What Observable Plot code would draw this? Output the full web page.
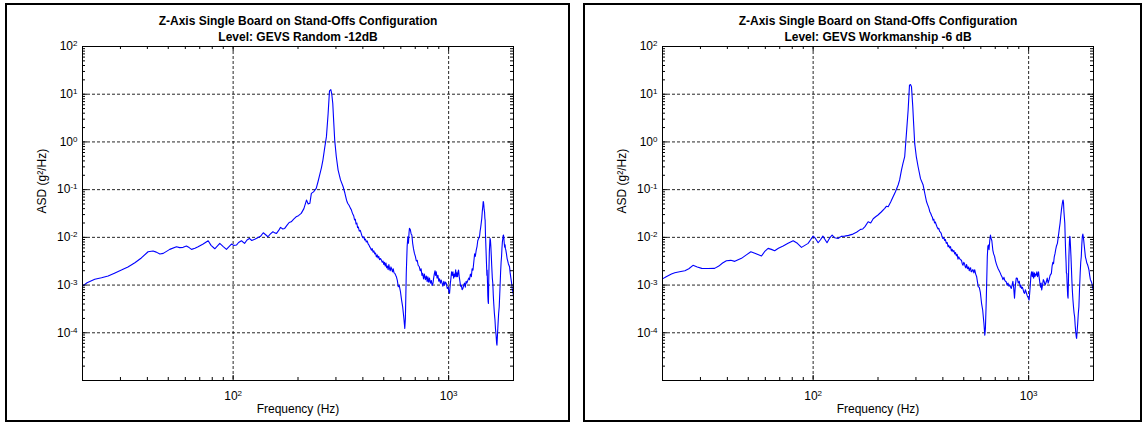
<!DOCTYPE html>
<html><head><meta charset="utf-8">
<script src="https://cdn.jsdelivr.net/npm/d3@7"></script>
<script src="https://cdn.jsdelivr.net/npm/@observablehq/plot@0.6"></script>
<style>
body{margin:0;background:#fff;width:1144px;height:423px;overflow:hidden;position:relative;font-family:"Liberation Sans",Arial,sans-serif}
.panel{position:absolute;top:0}
.border{position:absolute;border:2px solid #000;box-sizing:border-box;pointer-events:none}
</style></head><body>
<div id="p1" class="panel" style="left:0"></div>
<div id="p2" class="panel" style="left:580px"></div>
<div class="border" style="left:5px;top:3px;width:565px;height:419px"></div>
<div class="border" style="left:583px;top:3px;width:559px;height:419px"></div>
<script>
const titleLine1 = "Z-Axis Single Board on Stand-Offs Configuration";
const titlesLine2 = ["Level: GEVS Random -12dB", "Level: GEVS Workmanship -6 dB"];
const xLabel = "Frequency (Hz)";
const yLabel = "ASD (g²/Hz)";

const xDomain = [20, 2000];
const yDomain = [1e-5, 1e2];
const xMajor = [100, 1000];
const xMinor = [20, 30, 40, 50, 60, 70, 80, 90, 200, 300, 400, 500, 600, 700, 800, 900, 2000];
const yGrid = [1e-4, 1e-3, 1e-2, 1e-1, 1, 10];
const yLabeled = [1e-4, 1e-3, 1e-2, 1e-1, 1, 10, 100];
const yDecades = [1e-5, 1e-4, 1e-3, 1e-2, 1e-1, 1, 10];
const yMinorMult = [2, 3, 4, 5, 6, 7, 8, 9];

// Series 1: GEVS Random -12dB  [frequency Hz, ASD g^2/Hz]
const seriesRandom = [
[20,0.00095],[21,0.00112],[22.8,0.00132],[24.5,0.00142],[26.3,0.00155],[28.3,0.0018],[30.3,0.00206],[32.5,0.0024],[35,0.00294],[37.5,0.0037],
[40.3,0.00499],[42.5,0.00516],[44,0.0049],[45.7,0.00447],[47.4,0.00461],[50.8,0.0056],[54.6,0.00635],[56.5,0.0061],[58.6,0.00617],[60.7,0.00658],
[62.5,0.0061],[64.1,0.0056],[66.5,0.0059],[68.8,0.00635],[72.6,0.00724],[76.6,0.0085],[79,0.0068],[82.2,0.00577],[86.7,0.00748],[90,0.0064],
[93.1,0.0056],[98.2,0.00724],[100.5,0.0068],[103.6,0.0069],[106,0.0078],[109.3,0.0085],[113,0.00748],[116,0.0088],[119,0.0095],[122,0.0086],
[126,0.0091],[130,0.0098],[134,0.0105],[138,0.0125],[142,0.0112],[145,0.0103],[149,0.0118],[153,0.0131],[156,0.0124],[159,0.0121],
[163,0.0142],[166,0.0162],[170,0.015],[173.5,0.0154],[178,0.018],[182,0.0205],[186,0.0212],[191,0.024],[196,0.027],[201,0.0285],
[207,0.0318],[213,0.04],[219,0.0605],[223,0.05],[227,0.0516],[230.7,0.0836],[236,0.09],[243,0.106],[248,0.15],[252,0.202],
[257,0.29],[261,0.417],[266,0.75],[271,1.29],[276,3.98],[280,11.8],[284,12.5],[287,10],[290,6.4],[293,2.6],
[296,1.1],[301,0.5],[307,0.257],[315,0.16],[324,0.115],[330,0.085],[336,0.06],[340,0.052],[345,0.047],[350,0.041],
[354,0.0373],[357,0.033],[360,0.03],[363,0.028],[366,0.0231],[369,0.024],[372,0.019],[375,0.02],[378,0.016],[381,0.0165],
[385,0.0135],[389,0.014],[393,0.0121],[396,0.0108],[400,0.0098],[404,0.0102],[408,0.0088],[411,0.0092],[415,0.008],[419,0.0084],
[423,0.0073],[427,0.0069],[430,0.0064],[434,0.006],[438,0.0054],[442,0.0058],[446,0.0049],[450,0.0052],[454,0.0045],[458,0.0047],
[462,0.0039],[466,0.0043],[470,0.0037],[474,0.004],[478,0.0034],[483,0.0036],[488,0.0033],[492,0.003],[496,0.0032],[500,0.0027],
[504,0.003],[508,0.0025],[512,0.0029],[516,0.0023],[520,0.0025],[524,0.0021],[528,0.0027],[532,0.0022],[536,0.002],[540,0.0024],
[545,0.0021],[549,0.0019],[553,0.0022],[558,0.0018],[563,0.00176],[568,0.0016],[572,0.0015],[578,0.00125],[584,0.00092],[590,0.00098],
[597,0.00075],[605,0.000485],[612,0.00035],[620,0.0002],[626,0.000123],[630,0.0002],[636,0.00176],[642,0.0065],[647,0.0103],[651,0.0075],
[655,0.0125],[658,0.0154],[664,0.0145],[670,0.0118],[675,0.0112],[681,0.0075],[687,0.0058],[694,0.0046],[701,0.004],[708,0.0032],
[715,0.0033],[722,0.0026],[731,0.00242],[738,0.002],[745,0.0022],[752,0.0016],[758,0.00176],[765,0.00135],[772,0.0017],[780,0.0013],
[788,0.00155],[795,0.00118],[801,0.00149],[808,0.00115],[815,0.0014],[823,0.0011],[831,0.00125],[838,0.00098],[846,0.00109],[852,0.0014],
[858,0.0017],[865,0.002],[870,0.0016],[876,0.0019],[884,0.0014],[892,0.0016],[900,0.0012],[908,0.00135],[916,0.0011],[924,0.00127],
[932,0.0011],[940,0.00095],[950,0.0012],[958,0.001],[966,0.00115],[975,0.00109],[985,0.00085],[995,0.0009],[1003,0.00072],[1010,0.00067],
[1018,0.00105],[1025,0.0014],[1032,0.0019],[1040,0.0016],[1047,0.0019],[1055,0.0014],[1063,0.0017],[1070,0.0015],[1078,0.0021],[1085,0.00149],
[1092,0.0018],[1100,0.0015],[1106,0.0019],[1112,0.00206],[1120,0.0015],[1128,0.0012],[1136,0.00095],[1145,0.001],[1155,0.0008],[1165,0.00085],
[1175,0.001],[1185,0.0011],[1195,0.0009],[1205,0.0012],[1215,0.0011],[1229,0.00127],[1240,0.0014],[1250,0.0013],[1262,0.0017],[1275,0.0015],
[1285,0.0022],[1297,0.00206],[1310,0.0032],[1320,0.0045],[1330,0.004],[1343,0.00542],[1355,0.0065],[1365,0.0085],[1378,0.0095],[1391,0.0103],
[1400,0.0135],[1408,0.016],[1416,0.0196],[1425,0.025],[1433,0.035],[1441,0.045],[1447,0.056],[1451,0.0557],[1456,0.048],[1462,0.038],
[1468,0.034],[1473,0.025],[1477,0.023],[1482,0.012],[1490,0.006],[1498,0.003],[1505,0.0016],[1509,0.00206],[1515,0.0011],[1520,0.0006],
[1525,0.00045],[1530,0.00041],[1536,0.0015],[1545,0.005],[1556,0.0095],[1563,0.00877],[1570,0.0065],[1578,0.004],[1585,0.0025],[1595,0.0014],
[1603,0.00109],[1612,0.0006],[1620,0.0004],[1630,0.00026],[1641,0.000185],[1650,0.00012],[1660,0.00009],[1670,0.00006],[1676,0.0000552],[1685,0.00009],
[1695,0.00015],[1706,0.00025],[1717,0.00035],[1730,0.0008],[1742,0.0018],[1752,0.003],[1760,0.00392],[1768,0.006],[1776,0.008],[1785,0.0095],
[1792,0.011],[1797,0.0112],[1805,0.0095],[1812,0.0075],[1820,0.0062],[1828,0.007],[1835,0.0058],[1843,0.00542],[1855,0.0045],[1868,0.0036],
[1880,0.0032],[1893,0.0028],[1905,0.0026],[1917,0.00242],[1930,0.0018],[1945,0.0014],[1960,0.0011],[1975,0.0008],[1990,0.0007],[2000,0.00057]
];

// Series 2: GEVS Workmanship -6 dB  [frequency Hz, ASD g^2/Hz]
const seriesWork = [
[20,0.00135],[20.8,0.0015],[22,0.0017],[22.8,0.00181],[24,0.0019],[25.4,0.002],[26.5,0.0022],[27.7,0.00259],[29,0.0024],[30.4,0.00224],
[32.5,0.00222],[34.9,0.00224],[36.5,0.0025],[38,0.0029],[39.6,0.00324],[41.5,0.0033],[43.3,0.00314],[46.5,0.00363],[49,0.0043],[51.4,0.005],
[54,0.0046],[57.6,0.00406],[59.5,0.005],[61.8,0.00587],[64,0.0056],[66.3,0.00524],[69,0.0059],[72.6,0.00658],[76.5,0.0075],[80.8,0.0085],
[84.5,0.0075],[88.3,0.00617],[91.5,0.0068],[94.8,0.00748],[97.5,0.009],[100,0.0106],[102.5,0.0095],[105.5,0.0077],[108,0.0088],[111,0.0106],
[113.5,0.009],[116,0.0077],[119,0.0095],[122.5,0.0112],[126,0.0098],[130.6,0.0095],[135,0.0105],[140,0.0106],[146,0.011],[153,0.0117],
[159,0.0128],[166,0.0147],[170,0.015],[174,0.0168],[180,0.0212],[185,0.02],[190,0.0245],[195,0.027],[200,0.0294],[207,0.034],
[215,0.0405],[219,0.045],[223,0.0439],[229,0.055],[235,0.0709],[241,0.09],[248,0.125],[252,0.16],[257,0.257],[261,0.35],
[266,0.49],[271,1.51],[276,4.67],[280,15.5],[283,16],[286,14.4],[290,5.5],[293,2.2],[296,0.93],[301,0.5],
[307,0.302],[315,0.17],[324,0.125],[330,0.082],[336,0.0557],[340,0.048],[342,0.045],[345,0.04],[348,0.0344],[351,0.032],
[355,0.028],[358,0.026],[360,0.023],[363,0.024],[366,0.02],[369,0.021],[373,0.0181],[376,0.0165],[380,0.015],[383,0.0155],
[386,0.0135],[390,0.0128],[393,0.0121],[396,0.0105],[400,0.0095],[404,0.0098],[408,0.0086],[411,0.009],[415,0.0075],[419,0.0078],
[423,0.00635],[426,0.0068],[430,0.006],[434,0.0064],[438,0.0052],[442,0.0056],[446,0.005],[450,0.0053],[454,0.0045],[458,0.0048],
[462,0.0041],[466,0.0044],[470,0.0035],[474,0.0039],[478,0.0036],[483,0.0034],[488,0.0033],[492,0.0028],[496,0.0026],[500,0.003],
[504,0.0028],[508,0.0024],[512,0.0023],[515,0.0027],[518,0.0025],[521,0.0022],[524,0.00224],[527,0.0024],[530,0.002],[534,0.0022],
[538,0.0023],[541,0.0019],[545,0.0019],[549,0.0021],[553,0.00206],[557,0.0018],[562,0.0021],[568,0.0017],[574,0.00149],[580,0.0011],
[584,0.00092],[590,0.0009],[597,0.0007],[605,0.00041],[612,0.0003],[620,0.00016],[626,0.0000894],[630,0.00012],[636,0.000485],[643,0.00392],
[647,0.0065],[651,0.0069],[655,0.0055],[660,0.0085],[665,0.0112],[670,0.0095],[675,0.0085],[682,0.00542],[688,0.0045],[695,0.004],
[701,0.0033],[707,0.00285],[714,0.0025],[722,0.0022],[730,0.002],[738,0.0018],[745,0.00162],[752,0.0015],[760,0.0013],[768,0.00145],
[775,0.00125],[781,0.0012],[787,0.00117],[795,0.001],[802,0.0011],[810,0.00095],[818,0.001],[825,0.0009],[831,0.00085],[838,0.001],
[845,0.0012],[852,0.0009],[860,0.00053],[868,0.001],[876,0.0014],[886,0.00138],[895,0.0011],[905,0.0012],[914,0.0009],[920,0.001],
[927,0.00085],[935,0.0009],[943,0.0008],[950,0.0007],[958,0.00067],[966,0.0008],[975,0.0007],[985,0.0006],[995,0.00055],[1005,0.000485],
[1012,0.0007],[1018,0.001],[1025,0.0016],[1032,0.0019],[1040,0.0015],[1047,0.0019],[1055,0.0014],[1063,0.0018],[1070,0.0015],[1078,0.0017],
[1085,0.00162],[1092,0.0019],[1100,0.0015],[1106,0.0017],[1112,0.0019],[1120,0.0014],[1128,0.0011],[1136,0.0009],[1143,0.0011],[1150,0.00079],
[1160,0.001],[1170,0.0013],[1180,0.0012],[1192,0.001],[1208,0.00117],[1220,0.0014],[1232,0.0011],[1245,0.0013],[1258,0.0016],[1275,0.00176],
[1285,0.0025],[1295,0.003],[1305,0.0028],[1315,0.00392],[1325,0.0045],[1335,0.0055],[1345,0.0065],[1360,0.0075],[1372,0.01],[1385,0.014],
[1399,0.0196],[1410,0.028],[1420,0.038],[1430,0.048],[1440,0.058],[1445,0.0605],[1452,0.052],[1458,0.035],[1465,0.026],[1472,0.0196],
[1478,0.01],[1485,0.005],[1492,0.003],[1497,0.0018],[1503,0.00176],[1510,0.001],[1518,0.0006],[1524,0.00053],[1530,0.0012],[1538,0.004],
[1546,0.008],[1552,0.0105],[1556,0.0103],[1563,0.007],[1572,0.004],[1580,0.0022],[1588,0.0012],[1595,0.00079],[1605,0.0005],[1615,0.00035],
[1625,0.00026],[1635,0.000217],[1645,0.00014],[1655,0.0001],[1665,0.00008],[1670,0.0000764],[1680,0.00011],[1690,0.00016],[1700,0.00025],[1711,0.00035],
[1722,0.0008],[1735,0.0018],[1745,0.003],[1755,0.00392],[1765,0.007],[1775,0.0105],[1785,0.0117],[1792,0.0105],[1800,0.009],[1810,0.007],
[1820,0.0055],[1834,0.00392],[1848,0.0034],[1862,0.0029],[1876,0.0027],[1890,0.0024],[1906,0.00206],[1920,0.0016],[1935,0.0013],[1950,0.0012],
[1965,0.0011],[1980,0.0009],[1990,0.0008],[2000,0.00079]
];

const yMinor = yDecades.flatMap(d => yMinorMult.map(m => d * m));
const FONT = '"Liberation Sans", Arial, Helvetica, sans-serif';
const gridStyle = {stroke: "#000", strokeOpacity: 0.85, strokeDasharray: "3,2", strokeWidth: 1};

function panel(series, title2, width, marginRight) {
  const height = 423, mL = 82, mT = 46, mB = 43;
  const innerW = width - mL - marginRight, innerH = height - mT - mB;
  const data = series.map(([f, v]) => ({f, v}));
  const expFmt = d => String(Math.round(Math.log10(d)));
  const svg = Plot.plot({
    width, height,
    marginLeft: mL, marginRight, marginTop: mT, marginBottom: mB,
    style: {fontFamily: FONT, fontSize: "12px", color: "#000", background: "transparent", overflow: "visible"},
    x: {type: "log", domain: xDomain},
    y: {type: "log", domain: yDomain},
    marks: [
      Plot.ruleX(xMajor, {x: d => d, ...gridStyle}),
      Plot.ruleY(yGrid, {y: d => d, ...gridStyle}),
      Plot.line(data, {x: "f", y: "v", stroke: "#0000ff", strokeWidth: 1.1, clip: true}),
      Plot.tickX(xMinor, {x: d => d, insetTop: innerH - 3, stroke: "#000"}),
      Plot.tickX(xMinor, {x: d => d, insetBottom: innerH - 3, stroke: "#000"}),
      Plot.tickX(xMajor, {x: d => d, insetTop: innerH - 5, stroke: "#000"}),
      Plot.tickX(xMajor, {x: d => d, insetBottom: innerH - 5, stroke: "#000"}),
      Plot.tickY(yMinor, {y: d => d, insetRight: innerW - 3, stroke: "#000"}),
      Plot.tickY(yMinor, {y: d => d, insetLeft: innerW - 3, stroke: "#000"}),
      Plot.tickY(yGrid, {y: d => d, insetRight: innerW - 5, stroke: "#000"}),
      Plot.tickY(yGrid, {y: d => d, insetLeft: innerW - 5, stroke: "#000"}),
      Plot.frame({stroke: "#000", strokeWidth: 1}),
      Plot.axisX(xMajor, {tickFormat: expFmt, tickSize: 0, tickPadding: 11, label: null, fontSize: 12}),
      Plot.axisY(yLabeled, {tickFormat: expFmt, tickSize: 0, tickPadding: 5, label: null, fontSize: 12}),
      Plot.text([titleLine1], {frameAnchor: "top", dy: -30, fontWeight: "bold", fontSize: 12, fill: "#000"}),
      Plot.text([title2], {frameAnchor: "top", dy: -14.5, fontWeight: "bold", fontSize: 12, fill: "#000"}),
      Plot.text([xLabel], {frameAnchor: "bottom", dy: 32, fontSize: 12, fill: "#000"}),
      Plot.text([yLabel], {frameAnchor: "left", dx: -40, rotate: -90, fontSize: 12, fill: "#000"})
    ]
  });
  d3.select(svg).selectAll('g[aria-label="x-axis tick label"] text, g[aria-label="y-axis tick label"] text').each(function() {
    const e = this.textContent;
    const t = d3.select(this);
    t.text(null);
    t.append("tspan").text("10");
    t.append("tspan").attr("dy", "-0.5em").attr("font-size", "8px").text(e);
  });
  return svg;
}

document.getElementById("p1").appendChild(panel(seriesRandom, titlesLine2[0], 575, 62));
document.getElementById("p2").appendChild(panel(seriesWork, titlesLine2[1], 564, 51));
</script>
</body></html>
